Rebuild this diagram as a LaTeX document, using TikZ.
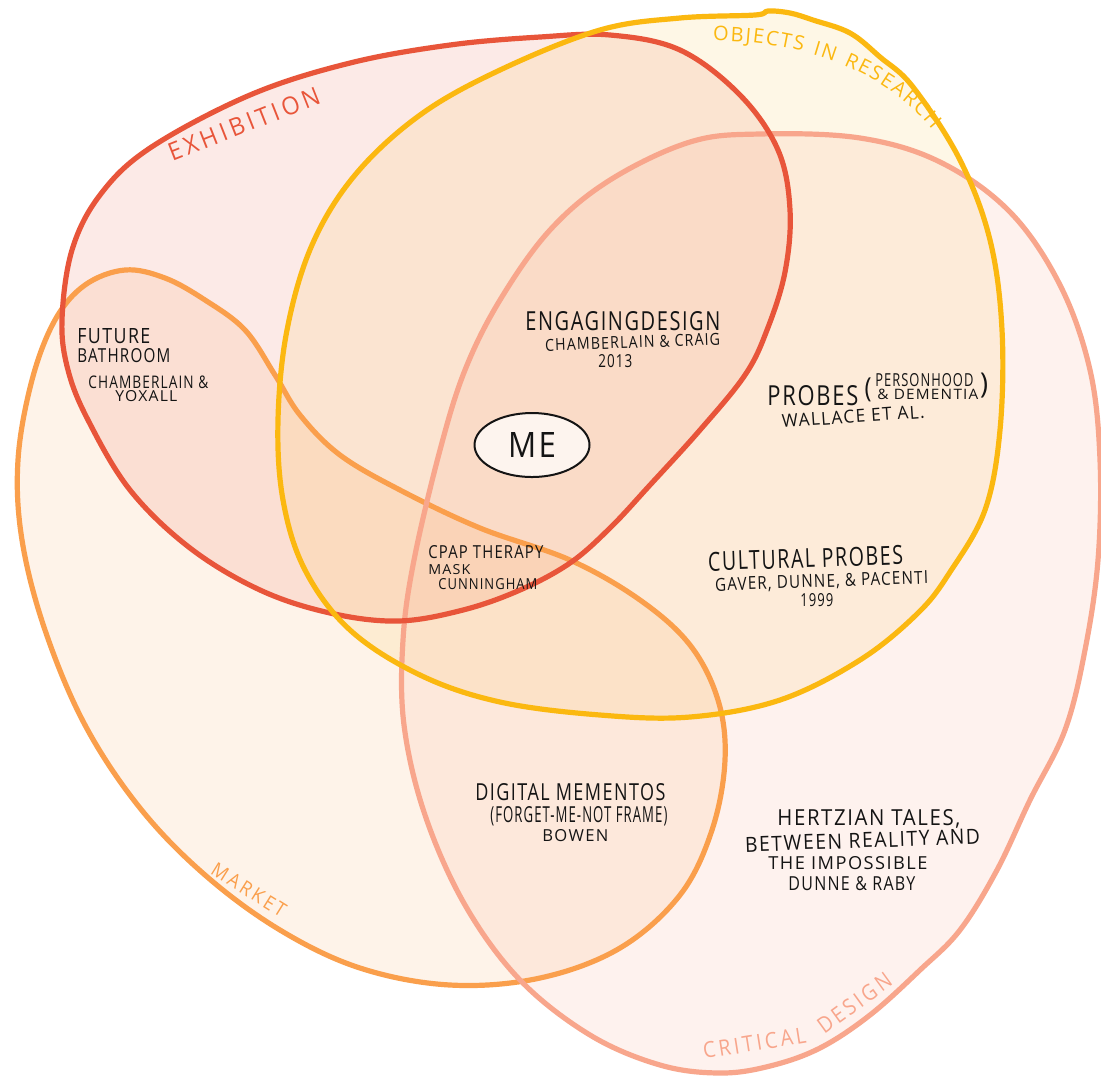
\documentclass[tikz,border=0pt]{standalone}
\usepackage{fontspec}
\usepackage{graphicx}
\setmainfont{Open Sans}
\newfontfamily\handfont[LetterSpace=8]{Open Sans}
\newfontfamily\wideHand[LetterSpace=16]{Open Sans}
\usetikzlibrary{shapes.geometric,decorations.text}

\definecolor{exred}{HTML}{E8553A}
\definecolor{objyel}{HTML}{FBB810}
\definecolor{critsal}{HTML}{F8A68C}
\definecolor{mktorg}{HTML}{FA9F4C}
\definecolor{ink}{HTML}{141414}
\definecolor{mefill}{HTML}{FDF4EE}

% one line of hand lettering, squeezed to a given width and cap height (pt)
\newcommand\inkline[3]{\resizebox{#1pt}{#2pt}{\handfont #3}}
% the same with slightly wider letter gaps, for the region names
\newcommand\wideline[3]{\resizebox{#1pt}{#2pt}{\wideHand #3}}

% the four hand-drawn regions
\def\exhShape{plot[smooth cycle, tension=0.6] coordinates {
 (62,320) (72,250) (100,195) (150,148) (250,95) (350,63) (450,45) (540,37)
 (610,35) (680,50) (740,95) (778,150) (790,210) (785,272) (767,330) (745,375)
 (700,430) (650,485) (610,528) (570,563) (520,590) (463,610) (398,621)
 (330,613) (260,590) (190,548) (130,490) (88,420) (68,370)}}
\def\objShape{plot[smooth cycle, tension=0.6] coordinates {
 (680,18) (755,15) (768,11) (790,13) (813,20) (850,33) (880,57) (913,87)
 (960,160) (990,240) (1002,330) (1000,430) (985,510) (950,572) (918,613)
 (860,660) (780,700) (690,717) (600,715) (500,702) (420,675) (350,630)
 (305,570) (283,500) (278,420) (287,330) (312,245) (355,175) (420,115)
 (500,70) (600,30)}}
\def\critShape{plot[smooth cycle, tension=0.6] coordinates {
 (690,142) (760,134) (860,138) (940,162) (1010,212) (1060,285) (1090,370)
 (1100,460) (1098,560) (1085,650) (1065,730) (1030,800) (997,870) (960,930)
 (920,970) (870,1015) (820,1048) (770,1066) (720,1073) (660,1065) (590,1035)
 (520,980) (465,905) (425,815) (404,725) (403,640) (414,560) (440,450)
 (465,370) (500,300) (550,230) (610,180)}}
\def\mktShape{plot[smooth cycle, tension=0.6] coordinates {
 (125,270) (165,278) (205,300) (245,330) (275,375) (300,415) (340,455)
 (400,490) (480,528) (570,560) (640,600) (690,645) (718,700) (725,760)
 (712,830) (680,895) (620,948) (540,978) (450,985) (360,968) (280,930)
 (205,875) (140,808) (85,725) (45,630) (22,540) (18,460) (32,380) (55,320)
 (85,285)}}

\begin{document}
\begin{tikzpicture}[x=0.5pt, y=-0.5pt,
  region/.style={line width=2.6pt, line join=round},
  tint/.style={fill opacity=0.12},
  hw/.style={inner sep=0pt, text=ink},
  tag/.style={inner sep=0pt}]

\fill[white] (0,0) rectangle (1101,1078);
\useasboundingbox (0,0) rectangle (1101,1078);

% translucent washes
\fill[mktorg, tint] \mktShape;
\fill[exred, tint] \exhShape;
\fill[objyel, fill opacity=0.10] \objShape;
\fill[critsal, fill opacity=0.14] \critShape;

% outlines
\draw[region, mktorg] \mktShape;
\draw[region, critsal] \critShape;
\draw[region, exred] \exhShape;
\draw[region, objyel] \objShape;

% region names
\node[tag, text=exred, rotate=21.5] (lblexh) at (244,124) {\wideline{80.5}{9}{EXHIBITION}};
\node[tag, text=mktorg, rotate=-32] (lblmkt) at (249,890) {\wideline{42}{7}{MARKET}};
\path[decorate, decoration={text along path, text align=fit to path,
  text={|\handfont\fontsize{10}{12}\selectfont\color{objyel}|OBJECTS IN RESEARCH}}]
  (713,41) .. controls (800,40) and (885,70) .. (932,130);
\node[tag, text=critsal, anchor=base west, rotate=9] (lblcrit1) at (704,1059) {\wideline{52}{8}{CRITICAL}};
\node[tag, text=critsal, anchor=base west, rotate=36] (lblcrit2) at (824,1035) {\wideline{43}{8}{DESIGN}};

% me
\node[ellipse, draw=ink, line width=1pt, fill=mefill, minimum width=57.5pt,
  minimum height=32pt, inner sep=0pt, text=ink] (me) at (532,445) {\inkline{24}{12.5}{ME}};

% future bathroom
\node[hw, anchor=base west] (fb1) at (77,343) {\inkline{36.5}{7.5}{FUTURE}};
\node[hw, anchor=base west] (fb2) at (77,362) {\inkline{46.5}{7}{BATHROOM}};
\node[hw, anchor=base west] (fb3) at (88,388) {\inkline{60}{6.3}{CHAMBERLAIN \&}};
\node[hw, anchor=base west] (fb4) at (115,401) {\inkline{31}{5.5}{YOXALL}};

% engaging design
\node[hw, anchor=base west] (ed1) at (525,330) {\inkline{97.5}{9.5}{ENGAGINGDESIGN}};
\node[hw, anchor=base west, rotate=2] (ed2) at (545,351) {\inkline{87.5}{6}{CHAMBERLAIN \& CRAIG}};
\node[hw, anchor=base west] (ed3) at (598,367) {\inkline{17}{6.5}{2013}};

% probes
\node[hw, anchor=base west] (pr1) at (767,405) {\inkline{45.5}{10}{PROBES}};
\node[hw] (pr2) at (868,390) {\resizebox*{3.5pt}{12pt}{\handfont (}};
\node[hw, anchor=base west] (pr3) at (875,386) {\inkline{49}{6.5}{PERSONHOOD}};
\node[hw, anchor=base west] (pr4) at (877,399) {\inkline{50.5}{5.2}{\& DEMENTIA}};
\node[hw] (pr5) at (984,386) {\resizebox*{4pt}{12.5pt}{\handfont )}};
\node[hw, anchor=base west, rotate=4] (pr6) at (782,428) {\inkline{71.5}{6.5}{WALLACE ET AL.}};

% cpap therapy mask
\node[hw, anchor=base west] (cp1) at (428,558) {\inkline{57.5}{6.5}{CPAP THERAPY}};
\node[hw, anchor=base west] (cp2) at (428,574) {\inkline{21}{5}{MASK}};
\node[hw, anchor=base west] (cp3) at (438,589) {\inkline{49.5}{5.5}{CUNNINGHAM}};

% cultural probes
\node[hw, anchor=base west, rotate=2] (cu1) at (708,571) {\inkline{97.5}{9.5}{CULTURAL PROBES}};
\node[hw, anchor=base west, rotate=2] (cu2) at (715,591) {\inkline{106.5}{6.5}{GAVER, DUNNE, \& PACENTI}};
\node[hw, anchor=base west] (cu3) at (800,606) {\inkline{16.5}{6.5}{1999}};

% digital mementos
\node[hw, anchor=base west] (dm1) at (475,800) {\inkline{95}{8.5}{DIGITAL MEMENTOS}};
\node[hw, anchor=base west] (dm2) at (490,822) {\inkline{88.5}{8}{(FORGET-ME-NOT FRAME)}};
\node[hw, anchor=base west] (dm3) at (542,841) {\inkline{33}{6}{BOWEN}};

% hertzian tales
\node[hw, anchor=base west] (ht1) at (777,825) {\inkline{91.5}{8}{HERTZIAN TALES,}};
\node[hw, anchor=base west, rotate=2] (ht2) at (745,852) {\inkline{117.5}{7.5}{BETWEEN REALITY AND}};
\node[hw, anchor=base west] (ht3) at (768,869) {\inkline{79.5}{6.5}{THE IMPOSSIBLE}};
\node[hw, anchor=base west] (ht4) at (788,890) {\inkline{63.5}{7}{DUNNE \& RABY}};

\end{tikzpicture}
\end{document}
